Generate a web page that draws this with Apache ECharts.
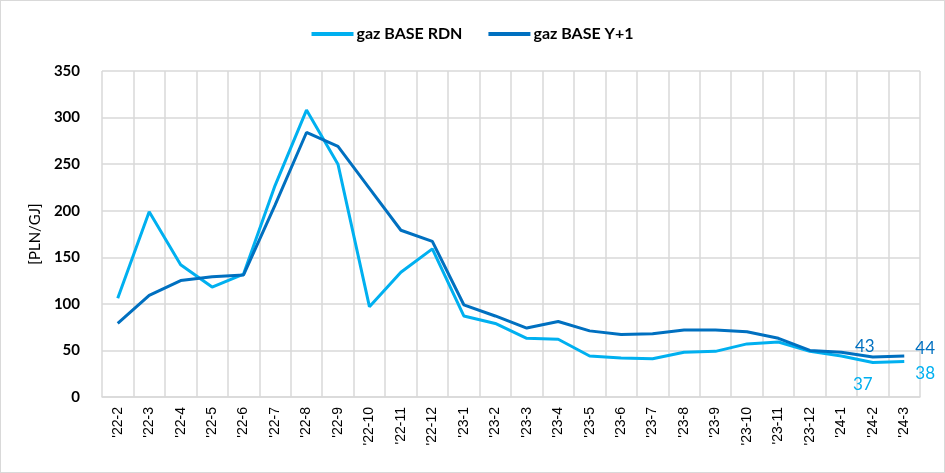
<!DOCTYPE html>
<html>
<head>
<meta charset="utf-8">
<script src="https://cdn.jsdelivr.net/npm/echarts@6/dist/echarts.min.js"></script>
<style>
  html, body { margin: 0; padding: 0; background: #fff; }
  #chart { width: 945px; height: 473px; box-sizing: border-box; border: 1px solid #d9d9d9; }
</style>
</head>
<body>
<div id="chart"></div>
<script>
// dane z wykresu
const months = ["'22-2","'22-3","'22-4","'22-5","'22-6","'22-7","'22-8","'22-9","'22-10","'22-11","'22-12",
  "'23-1","'23-2","'23-3","'23-4","'23-5","'23-6","'23-7","'23-8","'23-9","'23-10","'23-11","'23-12",
  "'24-1","'24-2","'24-3"];
const rdn = [106, 199, 142, 118, 132, 227, 308, 250, 97, 134, 159,
  87, 79, 63, 62, 44, 42, 41, 48, 49, 57, 59, 49, 44, 37, 38];
const yPlus1 = [79, 109, 125, 129, 131, 206, 284, 269, 224, 179, 167,
  99, 87, 74, 81, 71, 67, 68, 72, 72, 70, 63, 50, 48, 43, 44];
const yTicks = { min: 0, max: 350, interval: 50 };

const chart = echarts.init(document.getElementById('chart'));

// etykiety tylko dla dwóch ostatnich punktów
const lastLabels = (data, color, posPrev, posLast, offPrev, offLast) =>
  data.map((v, i) => {
    if (i === data.length - 2) {
      return { value: v, label: { show: true, position: posPrev, offset: offPrev, color: color } };
    }
    if (i === data.length - 1) {
      return { value: v, label: { show: true, position: posLast, offset: offLast, color: color } };
    }
    return v;
  });

const option = {
  animation: false,
  textStyle: { fontFamily: 'Lato' },
  legend: {
    top: 20,
    left: 'center',
    itemWidth: 42,
    itemHeight: 4,
    itemGap: 26,
    icon: 'rect',
    textStyle: { fontSize: 16, fontWeight: 'bold', color: '#000', fontFamily: 'Lato', padding: [0, 0, 0, -2] },
    data: ['gaz BASE RDN', 'gaz BASE Y+1']
  },
  grid: { left: 101, right: 24, top: 70, bottom: 75 },
  xAxis: {
    type: 'category',
    data: months,
    boundaryGap: true,
    axisLine: { lineStyle: { color: '#d9d9d9', width: 1.5 } },
    axisTick: { show: false },
    splitLine: { show: true, interval: 0, lineStyle: { color: '#d9d9d9', width: 1.5 } },
    axisLabel: {
      interval: 0,
      rotate: 90,
      margin: 10,
      color: '#000',
      fontSize: 14,
      fontFamily: 'Liberation Sans'
    }
  },
  yAxis: {
    type: 'value',
    min: yTicks.min,
    max: yTicks.max,
    interval: yTicks.interval,
    name: '[PLN/GJ]',
    nameLocation: 'middle',
    nameGap: 52,
    nameTextStyle: { fontSize: 15, color: '#000', fontFamily: 'Lato' },
    axisLine: { show: false },
    axisTick: { show: false },
    splitLine: { lineStyle: { color: '#d9d9d9', width: 1.5 } },
    axisLabel: { color: '#000', fontSize: 15, fontWeight: 'bold', margin: 22, fontFamily: 'Lato' }
  },
  series: [
    {
      name: 'gaz BASE RDN',
      type: 'line',
      data: lastLabels(rdn, '#00b0f0', 'bottom', 'right', [-10, 8], [6, 12]),
      symbol: 'circle',
      symbolSize: 0,
      showSymbol: true,
      color: '#00b0f0',
      lineStyle: { width: 3, color: '#00b0f0' },
      label: { fontSize: 17, fontFamily: 'Lato' },
      z: 2
    },
    {
      name: 'gaz BASE Y+1',
      type: 'line',
      data: lastLabels(yPlus1, '#0070c0', 'top', 'right', [-8, 3], [6, -8]),
      symbol: 'circle',
      symbolSize: 0,
      showSymbol: true,
      color: '#0070c0',
      lineStyle: { width: 3, color: '#0070c0' },
      label: { fontSize: 17, fontFamily: 'Lato' },
      z: 3
    }
  ]
};

chart.setOption(option);
</script>
</body>
</html>
